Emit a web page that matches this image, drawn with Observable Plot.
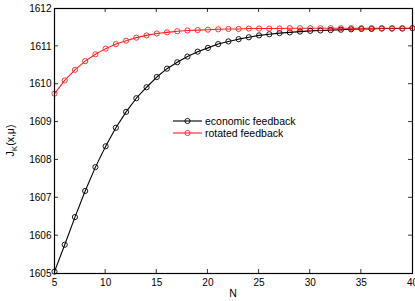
<!DOCTYPE html>
<html>
<head>
<meta charset="utf-8">
<script src="https://cdn.jsdelivr.net/npm/d3@7"></script>
<script src="https://cdn.jsdelivr.net/npm/@observablehq/plot@0.6"></script>
<style>
  html, body { margin: 0; padding: 0; background: #fff; }
  svg { font-family: "Liberation Sans", Arial, sans-serif; }
</style>
</head>
<body>
<div id="chart"></div>
<script>
const N = d3.range(5, 41);
const economic = [
  1605.05, 1605.76, 1606.49, 1607.18, 1607.81, 1608.36, 1608.85, 1609.27, 1609.63, 1609.92,
  1610.19, 1610.41, 1610.58, 1610.73, 1610.86, 1610.96, 1611.06, 1611.13, 1611.19, 1611.24,
  1611.29, 1611.32, 1611.35, 1611.37, 1611.39, 1611.41, 1611.42, 1611.43, 1611.44, 1611.45,
  1611.46, 1611.46, 1611.47, 1611.47, 1611.47, 1611.48
];
const rotated = [
  1609.75, 1610.10, 1610.38, 1610.61, 1610.79, 1610.94, 1611.06, 1611.15, 1611.23, 1611.29,
  1611.34, 1611.37, 1611.40, 1611.42, 1611.43, 1611.44, 1611.45, 1611.46, 1611.46, 1611.47,
  1611.47, 1611.47, 1611.47, 1611.48, 1611.48, 1611.48, 1611.48, 1611.48, 1611.48, 1611.48,
  1611.48, 1611.48, 1611.48, 1611.48, 1611.48, 1611.48
];
const seriesNames = ["economic feedback", "rotated feedback"];
const seriesColors = ["#000000", "#ff2020"];
const xTicks = [5, 10, 15, 20, 25, 30, 35, 40];
const yTicks = [1605, 1606, 1607, 1608, 1609, 1610, 1611, 1612];

const data = [];
N.forEach((n, i) => {
  data.push({N: n, J: economic[i], s: seriesNames[0]});
  data.push({N: n, J: rotated[i], s: seriesNames[1]});
});

const W = 415, H = 301;
const plot = Plot.plot({
  width: W, height: H,
  marginLeft: 54, marginRight: 3, marginTop: 8, marginBottom: 28,
  style: {fontSize: "10px", fontFamily: "Liberation Sans, Arial, sans-serif", background: "#fff", color: "#000"},
  x: {type: "linear", domain: [5, 40]},
  y: {type: "linear", domain: [1605, 1612]},
  color: {domain: seriesNames, range: seriesColors},
  marks: [
    Plot.axisX({ticks: xTicks, tickSize: 0, tickPadding: 5, label: null, tickFormat: d => String(d)}),
    Plot.axisY({ticks: yTicks, tickSize: 0, tickPadding: 3, label: null, tickFormat: d => String(d)}),
    Plot.line(data, {x: "N", y: "J", stroke: "s", z: "s", strokeWidth: 1.1}),
    Plot.dot(data, {x: "N", y: "J", stroke: "s", r: 2.6, strokeWidth: 0.9, fill: "none"}),
    Plot.frame({stroke: "#000", strokeWidth: 1.2})
  ]
});
document.getElementById("chart").appendChild(plot);

// inward ticks on all four sides, positioned by the plot's own scales
const svg = d3.select(plot);
const xs = plot.scale("x"), ys = plot.scale("y");
const x0 = xs.apply(5), x1 = xs.apply(40), y0 = ys.apply(1605), y1 = ys.apply(1612);
const tg = svg.append("g").attr("stroke", "#000").attr("stroke-width", 0.8);
xTicks.slice(1, -1).forEach(t => {
  const px = xs.apply(t);
  tg.append("line").attr("x1", px).attr("x2", px).attr("y1", y0).attr("y2", y0 - 4);
  tg.append("line").attr("x1", px).attr("x2", px).attr("y1", y1).attr("y2", y1 + 4);
});
yTicks.slice(1, -1).forEach(t => {
  const py = ys.apply(t);
  tg.append("line").attr("x1", x0).attr("x2", x0 + 4).attr("y1", py).attr("y2", py);
  tg.append("line").attr("x1", x1).attr("x2", x1 - 4).attr("y1", py).attr("y2", py);
});

// axis labels
svg.append("text").attr("x", (x0 + x1) / 2).attr("y", 297).attr("text-anchor", "middle")
  .attr("font-size", 10.5).text("N");
const yl = svg.append("text").attr("transform", `translate(14,${(y0 + y1) / 2}) rotate(-90)`)
  .attr("text-anchor", "middle").attr("font-size", 10.5);
yl.append("tspan").text("J");
yl.append("tspan").attr("font-size", 8).attr("dy", 3).text("K");
yl.append("tspan").attr("dy", -3).text("(x,μ)");

// legend
const lg = svg.append("g");
seriesNames.forEach((name, i) => {
  const ly = 121 + i * 12;
  lg.append("line").attr("x1", 173).attr("x2", 202).attr("y1", ly).attr("y2", ly)
    .attr("stroke", seriesColors[i]).attr("stroke-width", 1.1);
  lg.append("circle").attr("cx", 187.5).attr("cy", ly).attr("r", 2.6)
    .attr("fill", "none").attr("stroke", seriesColors[i]).attr("stroke-width", 0.9);
  lg.append("text").attr("x", 205).attr("y", ly).attr("dy", "0.35em")
    .attr("text-anchor", "start").attr("font-size", 10.5).text(name);
});
</script>
</body>
</html>
